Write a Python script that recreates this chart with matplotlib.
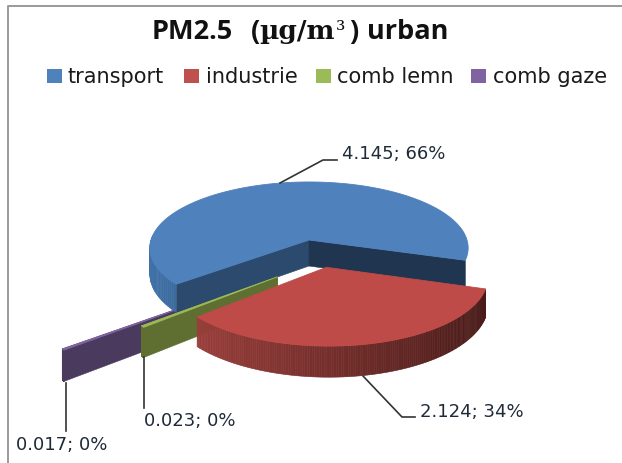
import numpy as np
import matplotlib

matplotlib.use("Agg")
import matplotlib.pyplot as plt
from matplotlib.colors import to_rgb

categories = ["transport", "industrie", "comb lemn", "comb gaze"]
values = [4.145, 2.124, 0.023, 0.017]
legend_colors = ["#4F81BD", "#C0504D", "#9BBB59", "#8064A2"]

# look of the fake 3d pie, all in pixels of the 622x463 picture
CX, CY = 309, 240
RX, RY = 158, 65
PERSP = 0.12
DEPTH = 26
START = 219

EXPLODE = {
    "transport": (0.0, 0.0),
    "industrie": (0.105, -0.40),
    "comb lemn": (-0.187, -0.53),
    "comb gaze": (-0.523, -0.766),
}
RADIUS = {"transport": 1.0, "industrie": 0.965, "comb lemn": 0.95, "comb gaze": 1.0}
TOP = {"transport": "#4F81BD", "industrie": "#BE4B48",
       "comb lemn": "#9BBB59", "comb gaze": "#8064A2"}
WALL_A = {"transport": "#1F3550", "industrie": None,
          "comb lemn": "#5E6F31", "comb gaze": "#4A3A5E"}
WALL_B = {"transport": "#2C4A6E", "industrie": None,
          "comb lemn": "#5E6F31", "comb gaze": "#4A3A5E"}
SIDE_L = {"transport": "#4072A8", "industrie": "#A5433F",
          "comb lemn": "#5E6F31", "comb gaze": "#4A3A5E"}
SIDE_R = {"transport": "#1F3550", "industrie": "#451A18",
          "comb lemn": "#5E6F31", "comb gaze": "#4A3A5E"}


def project(x, y, z=0.0):
    s = 1.0 / (1.0 + PERSP * np.asarray(y))
    return CX + RX * np.asarray(x) * s, CY - RY * np.asarray(y) * s + z * s


def mix(c1, c2, t):
    a, b = np.array(to_rgb(c1)), np.array(to_rgb(c2))
    return tuple(a + (b - a) * t)


def draw_slice(ax, name, a0, a1):
    # a0 > a1, the pie runs clockwise
    ex, ey = EXPLODE[name]
    r = RADIUS[name]
    th = np.radians(np.linspace(a0, a1, 160))
    ox, oy = ex + r * np.cos(th), ey + r * np.sin(th)

    # the two cut faces
    for j, cols in ((0, WALL_B), (-1, WALL_A)):
        if cols[name] is None:
            continue
        xs = np.array([ex, ox[j]])
        ys = np.array([ey, oy[j]])
        x0, y0 = project(xs, ys)
        x1, y1 = project(xs, ys, DEPTH)
        ax.fill(np.r_[x0, x1[::-1]], np.r_[y0, y1[::-1]], color=cols[name], lw=0.4)

    # outer rim, as thin strips so the shading can run along it
    for i in range(len(th) - 1):
        if np.sin(th[i]) > 0.05 and np.sin(th[i + 1]) > 0.05:
            continue
        # the right end of the blue rim does not show in the original
        if name == "transport" and np.cos(th[i]) > 0:
            continue
        x0, y0 = project(ox[i:i + 2], oy[i:i + 2])
        x1, y1 = project(ox[i:i + 2], oy[i:i + 2], DEPTH)
        t = (np.cos(th[i]) + 1) / 2
        col = mix(SIDE_L[name], SIDE_R[name], t)
        ax.fill(np.r_[x0, x1[::-1]], np.r_[y0, y1[::-1]], color=col, lw=0.4)

    tx, ty = project(np.r_[ex, ox], np.r_[ey, oy])
    ax.fill(tx, ty, color=TOP[name], lw=0.6)


fig = plt.figure(figsize=(6.22, 4.63), dpi=100)
ax = fig.add_axes([0, 0, 1, 1])
ax.set_xlim(0, 622)
ax.set_ylim(463, 0)
ax.axis("off")

# chart frame, only top and left are inside the picture
ax.plot([8, 8, 622], [463, 6, 6], color="#9A9A9A", lw=1.4)

total = sum(values)
spans = [v / total * 360 for v in values]
ends = START - np.cumsum(spans)
starts = np.r_[START, ends[:-1]]
bounds = {c: (s, e) for c, s, e in zip(categories, starts, ends)}

for name in ["comb gaze", "transport", "comb lemn", "industrie"]:
    draw_slice(ax, name, *bounds[name])

# title, the unit is in a serif face in the original
sans = "Open Sans"
serif = "DejaVu Serif"
title_parts = [
    (152, "PM2.5", sans, "bold", 19.5),
    (251, "(", sans, "bold", 19.5),
    (259, "µg/m", serif, "bold", 19),
    (336, "³", serif, "normal", 17),
    (349, ")", sans, "bold", 19.5),
    (367, "urban", sans, "bold", 19.5),
]
for tx, part, fam, weight, size in title_parts:
    ax.text(tx, 32, part, fontsize=size, fontweight=weight, family=fam,
            va="center", color="#111111")

# legend
box_x = [47, 184, 316, 471]
text_x = [68, 206, 337, 493]
for name, col, bx, tx in zip(categories, legend_colors, box_x, text_x):
    ax.fill([bx, bx + 15, bx + 15, bx], [69, 69, 83, 83], color=col, lw=0)
    ax.text(tx, 77, name, fontsize=15, family="DejaVu Sans", va="center", color="#1A1A1A")

# data labels with leader lines
pcts = [v / total * 100 for v in values]
labels = [f"{v:.3f}; {p:.0f}%" for v, p in zip(values, pcts)]
label_pos = [(342, 154), (420, 412), (144, 421), (16, 445)]
leaders = [
    ([280, 323, 337], [183, 160, 160]),
    ([363, 402, 415], [376, 417, 417]),
    ([144, 144], [357, 408]),
    ([66, 66], [383, 431]),
]
for lab, (lx, ly), (xs, ys) in zip(labels, label_pos, leaders):
    ax.plot(xs, ys, color="#333333", lw=1.2)
    ax.text(lx, ly, lab, fontsize=13, family="DejaVu Sans", va="center", color="#1F2A38")

fig.savefig("out.png", dpi=100)
